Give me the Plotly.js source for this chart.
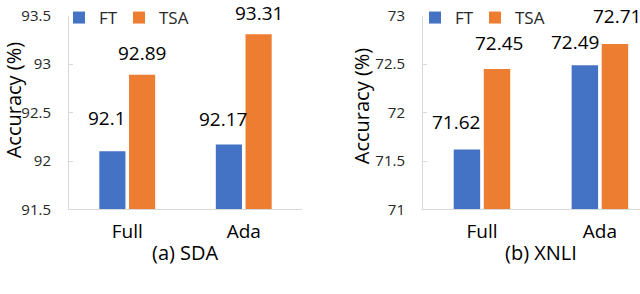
<!DOCTYPE html>
<html>
<head>
<meta charset="utf-8">
<script src="https://cdn.plot.ly/plotly-3.0.1.min.js"></script>
<style>html,body{margin:0;padding:0;background:#fff;}#chart{width:640px;height:294px;}</style>
</head>
<body>
<div id="chart"></div>
<script>
const categories = ["Full", "Ada"];
const seriesNames = ["FT", "TSA"];
const sdaFT = [92.1, 92.17];
const sdaTSA = [92.89, 93.31];
const xnliFT = [71.62, 72.49];
const xnliTSA = [72.45, 72.71];
const subTitles = ["(a) SDA", "(b) XNLI"];
const yTitle = "Accuracy (%)";

// label placement (pixel offsets from each category centre / bar top), per panel & series
const labelPlacement = {
  sda:  {FT: {dx: [-20, -21], gap: [24, 17]}, TSA: {dx: [15, 15], gap: [13, 12]}},
  xnli: {FT: {dx: [-26, -25], gap: [18, 14]}, TSA: {dx: [17, 17], gap: [17, 19]}}
};

const BLUE = "#4472C4", ORANGE = "#ED7D31";
const FONT = "Open Sans, Noto Sans, sans-serif";
const labelFont = {family: FONT, size: 19, color: "#000"};

function barTrace(vals, name, color, xa, ya, legend) {
  return {
    type: "bar", x: categories, y: vals, name: name,
    marker: {color: color},
    xaxis: xa, yaxis: ya, legend: legend, hoverinfo: "none"
  };
}

const data = [
  barTrace(sdaFT, seriesNames[0], BLUE, "x", "y", "legend"),
  barTrace(sdaTSA, seriesNames[1], ORANGE, "x", "y", "legend2"),
  barTrace(xnliFT, seriesNames[0], BLUE, "x2", "y2", "legend3"),
  barTrace(xnliTSA, seriesNames[1], ORANGE, "x2", "y2", "legend4")
];

const DESC = 6; // text descent + pad below baseline
function labelAnns(vals, place, xref, yref) {
  return vals.map((v, i) => ({
    text: String(v), x: categories[i], y: v, xref: xref, yref: yref,
    xanchor: "center", yanchor: "bottom", showarrow: false,
    xshift: place.dx[i], yshift: place.gap[i] - DESC, font: labelFont
  }));
}

const yDom = [1 - 208/294, 1 - 11/294];
const axisCommon = {
  showgrid: false, zeroline: false, showline: true,
  linecolor: "#d9d9d9", linewidth: 1, fixedrange: true
};
const yCommon = Object.assign({}, axisCommon, {
  dtick: 0.5, ticks: "inside", ticklen: 4, tickcolor: "#d9d9d9",
  tickfont: {family: FONT, size: 15, color: "#262626"}, ticklabelstandoff: 14
});
const xCommon = Object.assign({}, axisCommon, {
  ticks: "", tickfont: {family: FONT, size: 19, color: "#000"}, ticklabelstandoff: 5
});

const legendCommon = {
  orientation: "h", yanchor: "middle", y: 1 - 13/294, xanchor: "left",
  font: {family: FONT, size: 17, color: "#262626"},
  bgcolor: "rgba(0,0,0,0)", itemwidth: 30
};
// symbol centre sits ~20px right of legend's left edge
const legX = px => (px - 20) / 640;

const titleFont = {family: FONT, size: 20, color: "#000"};
const yTitleFont = {family: FONT, size: 20, color: "#000"};

const layout = {
  width: 640, height: 294,
  margin: {l: 0, r: 0, t: 0, b: 0},
  paper_bgcolor: "#fff", plot_bgcolor: "#fff",
  barmode: "group", bargap: 0.49, bargroupgap: 0.12,
  xaxis: Object.assign({}, xCommon, {domain: [69/640, 302/640], range: [-0.5, 1.5], anchor: "y"}),
  yaxis: Object.assign({}, yCommon, {domain: yDom, range: [91.5, 93.5], anchor: "x"}),
  xaxis2: Object.assign({}, xCommon, {domain: [423/640, 1], range: [-0.5, 1.34], anchor: "y2"}),
  yaxis2: Object.assign({}, yCommon, {domain: yDom, range: [71, 73], anchor: "x2"}),
  legend: Object.assign({}, legendCommon, {x: legX(79)}),
  legend2: Object.assign({}, legendCommon, {x: legX(139)}),
  legend3: Object.assign({}, legendCommon, {x: legX(435)}),
  legend4: Object.assign({}, legendCommon, {x: legX(495)}),
  annotations: [
    {text: subTitles[0], xref: "x", yref: "paper", x: 0.5, y: 1 - 252/294, yanchor: "middle",
     showarrow: false, font: titleFont},
    {text: subTitles[1], xref: "x2", yref: "paper", x: 0.5, y: 1 - 252/294, yanchor: "middle",
     showarrow: false, font: titleFont},
    {text: yTitle, xref: "paper", yref: "paper", x: 13/640, y: 1 - 97/294, textangle: -90,
     xanchor: "center", yanchor: "middle", showarrow: false, font: yTitleFont},
    {text: yTitle, xref: "paper", yref: "paper", x: 361/640, y: 1 - 103/294, textangle: -90,
     xanchor: "center", yanchor: "middle", showarrow: false, font: yTitleFont}
  ].concat(
    labelAnns(sdaFT, labelPlacement.sda.FT, "x", "y"),
    labelAnns(sdaTSA, labelPlacement.sda.TSA, "x", "y"),
    labelAnns(xnliFT, labelPlacement.xnli.FT, "x2", "y2"),
    labelAnns(xnliTSA, labelPlacement.xnli.TSA, "x2", "y2")
  ),
  showlegend: true
};

Plotly.newPlot("chart", data, layout, {staticPlot: true, displayModeBar: false});
</script>
</body>
</html>
